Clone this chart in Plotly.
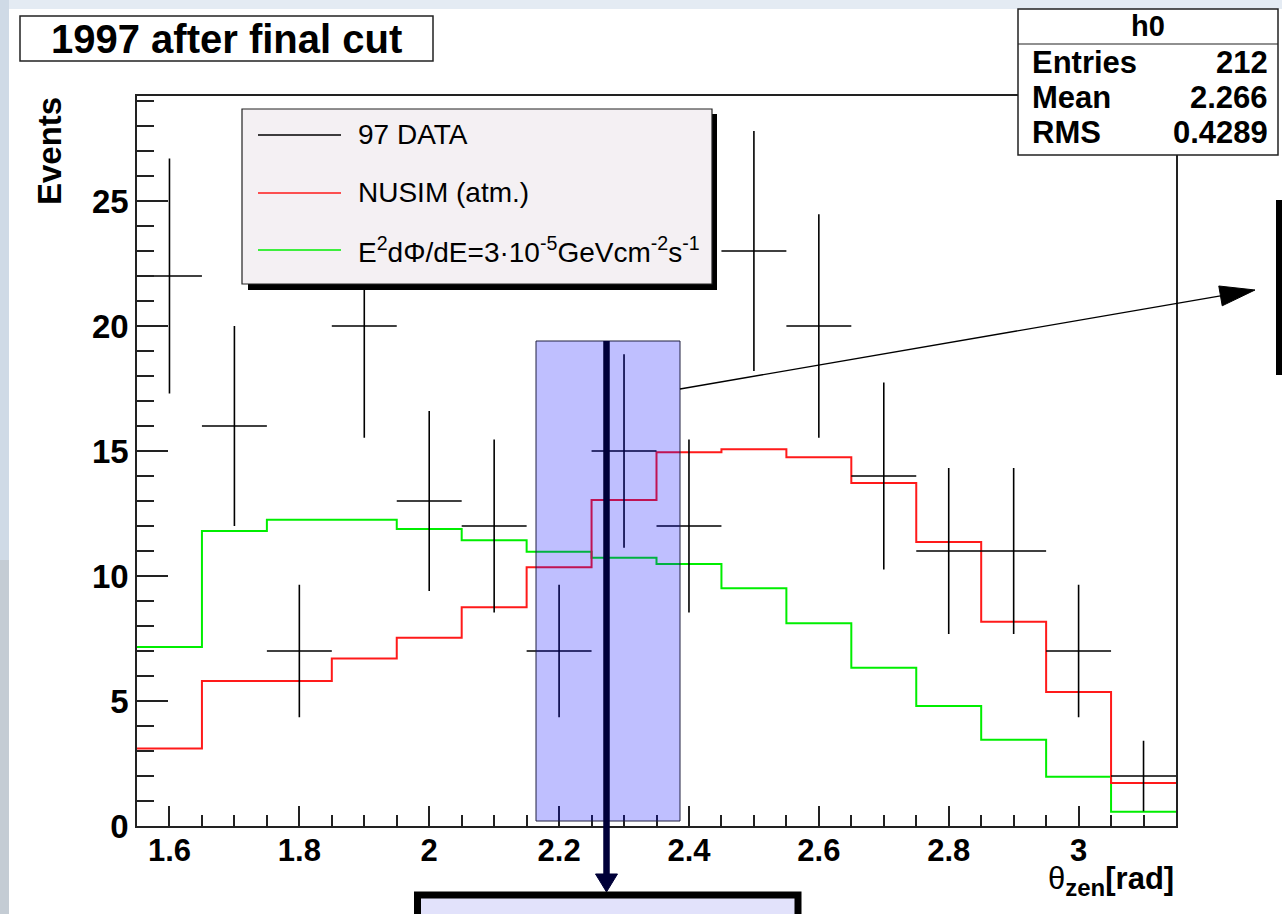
import plotly.graph_objects as go

# ---------------- data ----------------
bin_centers = [1.6, 1.7, 1.8, 1.9, 2.0, 2.1, 2.2, 2.3, 2.4, 2.5, 2.6, 2.7, 2.8, 2.9, 3.0, 3.1]
bin_half_width = 0.05
data_97 = [22, 16, 7, 20, 13, 12, 7, 15, 12, 23, 20, 14, 11, 11, 7, 2]
data_97_err = [4.7, 4.0, 2.65, 4.47, 3.6, 3.46, 2.65, 3.87, 3.46, 4.8, 4.47, 3.74, 3.32, 3.32, 2.65, 1.41]
nusim_atm = [3.1, 5.8, 5.8, 6.7, 7.53, 8.75, 10.35, 13.04, 14.95, 15.07, 14.75, 13.72, 11.36, 8.17, 5.36, 1.72]
signal_e2 = [7.16, 11.8, 12.25, 12.25, 11.88, 11.43, 10.97, 10.73, 10.48, 9.51, 8.11, 6.33, 4.8, 3.45, 1.97, 0.57]

legend_labels = ["97 DATA", "NUSIM (atm.)",
                 "E<sup>2</sup>dΦ/dE=3·10<sup>-5</sup>GeVcm<sup>-2</sup>s<sup>-1</sup>"]
stats_name = "h0"
stats_rows = [("Entries", "212"), ("Mean", "2.266"), ("RMS", "0.4289")]
title_text = "1997 after final cut"

x_range = [1.55, 3.15]
y_range = [0, 29.2]

# ---------------- geometry (pixels) ----------------
FW, FH = 1282, 914
L, R, T, B = 137, 1176, 96, 826
W, H = R - L, B - T


def px(x):
    return (x - L) / W


def py(y):
    return (B - y) / H


FONT = "Liberation Sans, Arial, sans-serif"

edges = [c - bin_half_width for c in bin_centers] + [bin_centers[-1] + bin_half_width]

fig = go.Figure()

fig.add_trace(go.Scatter(x=edges, y=signal_e2 + [signal_e2[-1]], mode="lines",
                         line=dict(color="#00ee00", width=2, shape="hv"),
                         showlegend=False, hoverinfo="skip"))
fig.add_trace(go.Scatter(x=edges, y=nusim_atm + [nusim_atm[-1]], mode="lines",
                         line=dict(color="#ff1a1a", width=2, shape="hv"),
                         showlegend=False, hoverinfo="skip"))
fig.add_trace(go.Scatter(x=bin_centers, y=data_97, mode="markers",
                         marker=dict(size=1, color="black", opacity=0),
                         error_x=dict(type="constant", value=bin_half_width, width=0,
                                      thickness=1.6, color="black"),
                         error_y=dict(type="data", array=data_97_err, width=0,
                                      thickness=1.6, color="black"),
                         showlegend=False, hoverinfo="skip"))

shapes = []
annotations = []

# page background strips (icy photo edge)
shapes.append(dict(type="rect", xref="paper", yref="paper", layer="below",
                   x0=px(0), x1=px(FW), y0=py(0), y1=py(9),
                   fillcolor="#e4ebf3", line=dict(width=0)))
shapes.append(dict(type="rect", xref="paper", yref="paper", layer="below",
                   x0=px(0), x1=px(9), y0=py(0), y1=py(FH),
                   fillcolor="#cfdae6", line=dict(width=0)))
shapes.append(dict(type="rect", xref="paper", yref="paper", layer="below",
                   x0=px(0), x1=px(9), y0=py(560), y1=py(FH),
                   fillcolor="#c4ccd4", line=dict(width=0)))

# title box
shapes.append(dict(type="rect", xref="paper", yref="paper", layer="above",
                   x0=px(20), x1=px(433), y0=py(61), y1=py(16),
                   fillcolor="white", line=dict(color="#222", width=1.5)))
annotations.append(dict(xref="paper", yref="paper", x=px(226), y=py(38.5),
                        text="<b>" + title_text + "</b>", showarrow=False,
                        font=dict(family=FONT, size=40, color="black"),
                        xanchor="center", yanchor="middle"))

# legend box with shadow
shapes.append(dict(type="rect", xref="paper", yref="paper", layer="above",
                   x0=px(248), x1=px(717), y0=py(290), y1=py(114),
                   fillcolor="black", line=dict(width=0)))
shapes.append(dict(type="rect", xref="paper", yref="paper", layer="above",
                   x0=px(242), x1=px(712), y0=py(284), y1=py(109),
                   fillcolor="#f4f0f3", line=dict(color="#222", width=1.2)))
legend_colors = ["black", "#ff1a1a", "#00ee00"]
legend_rows_y = [135, 193, 250]
for lab, col, ry in zip(legend_labels, legend_colors, legend_rows_y):
    shapes.append(dict(type="line", xref="paper", yref="paper", layer="above",
                       x0=px(258), x1=px(341), y0=py(ry), y1=py(ry),
                       line=dict(color=col, width=1.5)))
    annotations.append(dict(xref="paper", yref="paper", x=px(356), y=py(ry),
                            text=lab, showarrow=False,
                            font=dict(family=FONT, size=28, color="black"),
                            xanchor="left", yanchor="middle"))

# stats box
shapes.append(dict(type="rect", xref="paper", yref="paper", layer="above",
                   x0=px(1018), x1=px(1278), y0=py(155), y1=py(9),
                   fillcolor="white", line=dict(color="#222", width=1.5)))
shapes.append(dict(type="line", xref="paper", yref="paper", layer="above",
                   x0=px(1018), x1=px(1278), y0=py(44), y1=py(44),
                   line=dict(color="#222", width=1.2)))
annotations.append(dict(xref="paper", yref="paper", x=px(1148), y=py(26),
                        text="<b>" + stats_name + "</b>", showarrow=False,
                        font=dict(family=FONT, size=29, color="black"),
                        xanchor="center", yanchor="middle"))
for i, (k, v) in enumerate(stats_rows):
    yy = 62 + 35 * i
    annotations.append(dict(xref="paper", yref="paper", x=px(1030), y=py(yy),
                            text="<b>" + k + "</b>", showarrow=False,
                            font=dict(family=FONT, size=31, color="black"),
                            xanchor="left", yanchor="middle"))
    annotations.append(dict(xref="paper", yref="paper", x=px(1270), y=py(yy),
                            text="<b>" + v + "</b>", showarrow=False,
                            font=dict(family=FONT, size=31, color="black"),
                            xanchor="right", yanchor="middle"))

# translucent highlight box
shapes.append(dict(type="rect", xref="paper", yref="paper", layer="above",
                   x0=px(536), x1=px(680), y0=py(821), y1=py(341),
                   fillcolor="rgba(0,0,255,0.25)", line=dict(color="#202040", width=1)))

# navy vertical line with down arrow
shapes.append(dict(type="line", xref="paper", yref="paper", layer="above",
                   x0=px(606.5), x1=px(606.5), y0=py(341), y1=py(878),
                   line=dict(color="#000038", width=6.5)))
shapes.append(dict(type="path", xref="paper", yref="paper", layer="above",
                   path="M {:.5f},{:.5f} L {:.5f},{:.5f} L {:.5f},{:.5f} Z".format(
                       px(595.5), py(874), px(617.5), py(874), px(606.5), py(892)),
                   fillcolor="#000038", line=dict(color="#000038", width=1)))

# bottom box
shapes.append(dict(type="rect", xref="paper", yref="paper", layer="above",
                   x0=px(417.5), x1=px(798), y0=py(940), y1=py(895),
                   fillcolor="#e2e2fb", line=dict(color="black", width=7)))

# right box (partially off-page)
shapes.append(dict(type="rect", xref="paper", yref="paper", layer="above",
                   x0=px(1279), x1=px(1330), y0=py(372), y1=py(203),
                   fillcolor="white", line=dict(color="black", width=6)))

# thin arrow to the right box
tail = (680, 389)
tip = (1255, 290)
base = (1220.5, 295.9)
c1 = (1222.2, 305.8)
c2 = (1218.8, 286.0)
shapes.append(dict(type="line", xref="paper", yref="paper", layer="above",
                   x0=px(tail[0]), x1=px(base[0]), y0=py(tail[1]), y1=py(base[1]),
                   line=dict(color="black", width=1.3)))
shapes.append(dict(type="path", xref="paper", yref="paper", layer="above",
                   path="M {:.5f},{:.5f} L {:.5f},{:.5f} L {:.5f},{:.5f} Z".format(
                       px(c1[0]), py(c1[1]), px(tip[0]), py(tip[1]), px(c2[0]), py(c2[1])),
                   fillcolor="black", line=dict(color="black", width=1)))

# axis titles
annotations.append(dict(xref="paper", yref="paper", x=px(50), y=py(151),
                        text="<b>Events</b>", showarrow=False, textangle=-90,
                        font=dict(family=FONT, size=33, color="black"),
                        xanchor="center", yanchor="middle"))
annotations.append(dict(xref="paper", yref="paper", x=px(1176), y=py(881),
                        text="θ<sub><b><span style='font-size:24px'>zen</span></b></sub><b>[rad]</b>",
                        showarrow=False,
                        font=dict(family=FONT, size=31, color="black"),
                        xanchor="right", yanchor="middle"))

fig.update_layout(
    width=FW, height=FH,
    margin=dict(l=L, r=FW - R, t=T, b=FH - B),
    paper_bgcolor="white", plot_bgcolor="white",
    shapes=shapes, annotations=annotations,
    showlegend=False,
    xaxis=dict(range=x_range, showgrid=False, zeroline=False,
               showline=True, mirror=True, linecolor="#222", linewidth=1.5,
               ticks="inside", ticklen=20, tickwidth=1.5, tickcolor="#222",
               tick0=1.6, dtick=0.2, ticklabelstandoff=-4,
               tickfont=dict(family=FONT, size=31, color="black", weight="bold"),
               minor=dict(ticks="inside", ticklen=11, tickwidth=1.5, tickcolor="#222",
                          dtick=0.05, tick0=1.55, showgrid=False)),
    yaxis=dict(range=y_range, showgrid=False, zeroline=False,
               showline=True, mirror=True, linecolor="#222", linewidth=1.5,
               ticks="inside", ticklen=31, tickwidth=1.5, tickcolor="#222",
               tick0=0, dtick=5,
               tickfont=dict(family=FONT, size=33, color="black", weight="bold"),
               minor=dict(ticks="inside", ticklen=17, tickwidth=1.5, tickcolor="#222",
                          dtick=1, showgrid=False)),
)

fig.write_html("out.html", config={"displayModeBar": False},
               post_script="document.body.style.margin='0px';document.body.style.overflow='hidden';")
